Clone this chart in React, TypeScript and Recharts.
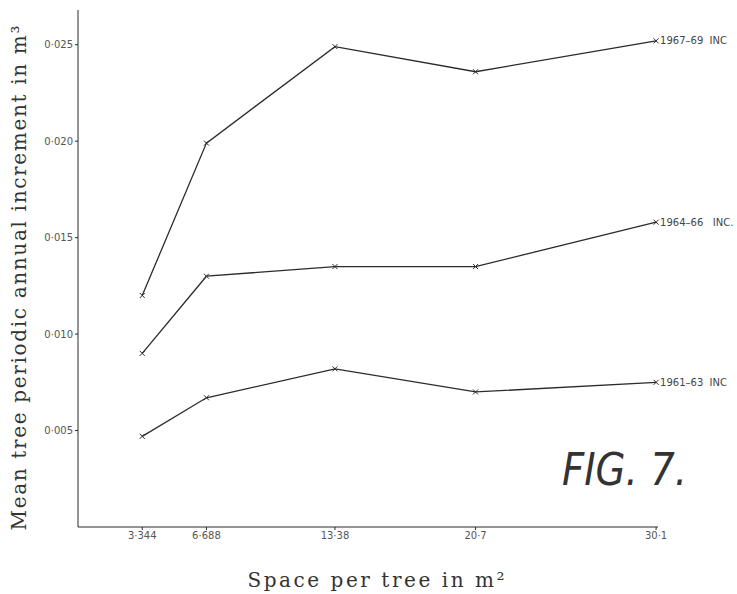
import { LineChart, Line, XAxis, YAxis, Label } from "recharts";

const spacing = [3.344, 6.688, 13.38, 20.7, 30.1];
const inc6163 = [0.0047, 0.0067, 0.0082, 0.007, 0.0075];
const inc6466 = [0.009, 0.013, 0.0135, 0.0135, 0.0158];
const inc6769 = [0.012, 0.0199, 0.0249, 0.0236, 0.0252];
const yTicks = [0.005, 0.01, 0.015, 0.02, 0.025];
const seriesNames = ["1961\u201363  INC", "1964\u201366   INC.", "1967\u201369  INC"];

const data = spacing.map((s, i) => ({
  s,
  a: inc6163[i],
  b: inc6466[i],
  c: inc6769[i],
}));

const INK = "#2b2b2b";
const TICK = { fill: "#555", fontSize: 10, fontFamily: "DejaVu Sans" };

const fmtY = (v: number) => v.toFixed(3).replace(".", "\u00b7");
const fmtX = (v: number) => String(v).replace(".", "\u00b7");

function Cross(props: any) {
  const { cx, cy } = props;
  if (cx == null || cy == null) return null;
  const r = 2.5;
  return (
    <path
      d={`M${cx - r},${cy - r}L${cx + r},${cy + r}M${cx - r},${cy + r}L${cx + r},${cy - r}`}
      stroke={INK}
      strokeWidth={1}
    />
  );
}

function endLabel(name: string) {
  return (props: any) => {
    const { x, y, index } = props;
    if (index !== spacing.length - 1) return null;
    return (
      <text
        x={x + 4}
        y={y + 3.5}
        fontSize={10}
        fontFamily="DejaVu Sans"
        fill="#444"
        style={{ whiteSpace: "pre" }}
      >
        {name}
      </text>
    );
  };
}

export default function App() {
  return (
    <div style={{ position: "absolute", left: 0, top: 0, width: 737, height: 594, background: "#fff" }}>
      <LineChart
        width={737}
        height={594}
        data={data}
        margin={{ top: 10, right: 79, bottom: 37, left: 8 }}
      >
        <XAxis
          dataKey="s"
          type="number"
          domain={[0, 30.2]}
          ticks={spacing}
          tickFormatter={fmtX}
          tick={TICK}
          tickSize={3}
          stroke={INK}
          height={30}
          interval={0}
        >
          <Label
            content={() => (
              <text
                x={376}
                y={587}
                textAnchor="middle"
                fontSize={20}
                fontFamily="DejaVu Serif"
                fill="#333"
                textLength={257}
                lengthAdjust="spacing"
              >
                Space per tree in m²
              </text>
            )}
          />
        </XAxis>
        <YAxis
          type="number"
          domain={[0, 0.0268]}
          ticks={yTicks}
          tickFormatter={fmtY}
          tick={TICK}
          tickSize={3}
          stroke={INK}
          width={70}
          interval={0}
        >
          <Label
            content={() => (
              <text
                x={26}
                y={278}
                textAnchor="middle"
                fontSize={20}
                fontFamily="DejaVu Serif"
                fill="#333"
                transform="rotate(-90 26 278)"
                textLength={505}
                lengthAdjust="spacing"
              >
                Mean tree periodic annual increment in m³
              </text>
            )}
          />
        </YAxis>
        <Line
          dataKey="a"
          stroke={INK}
          strokeWidth={1.3}
          dot={<Cross />}
          isAnimationActive={false}
          label={endLabel(seriesNames[0])}
        />
        <Line
          dataKey="b"
          stroke={INK}
          strokeWidth={1.3}
          dot={<Cross />}
          isAnimationActive={false}
          label={endLabel(seriesNames[1])}
        />
        <Line
          dataKey="c"
          stroke={INK}
          strokeWidth={1.3}
          dot={<Cross />}
          isAnimationActive={false}
          label={endLabel(seriesNames[2])}
        />
        <Label
          content={() => (
            <text
              x={562}
              y={485}
              fontSize={44}
              fontStyle="italic"
              fontFamily="DejaVu Sans"
              fill="#333"
              textLength={125}
              lengthAdjust="spacingAndGlyphs"
            >
              FIG. 7.
            </text>
          )}
        />
      </LineChart>
    </div>
  );
}
